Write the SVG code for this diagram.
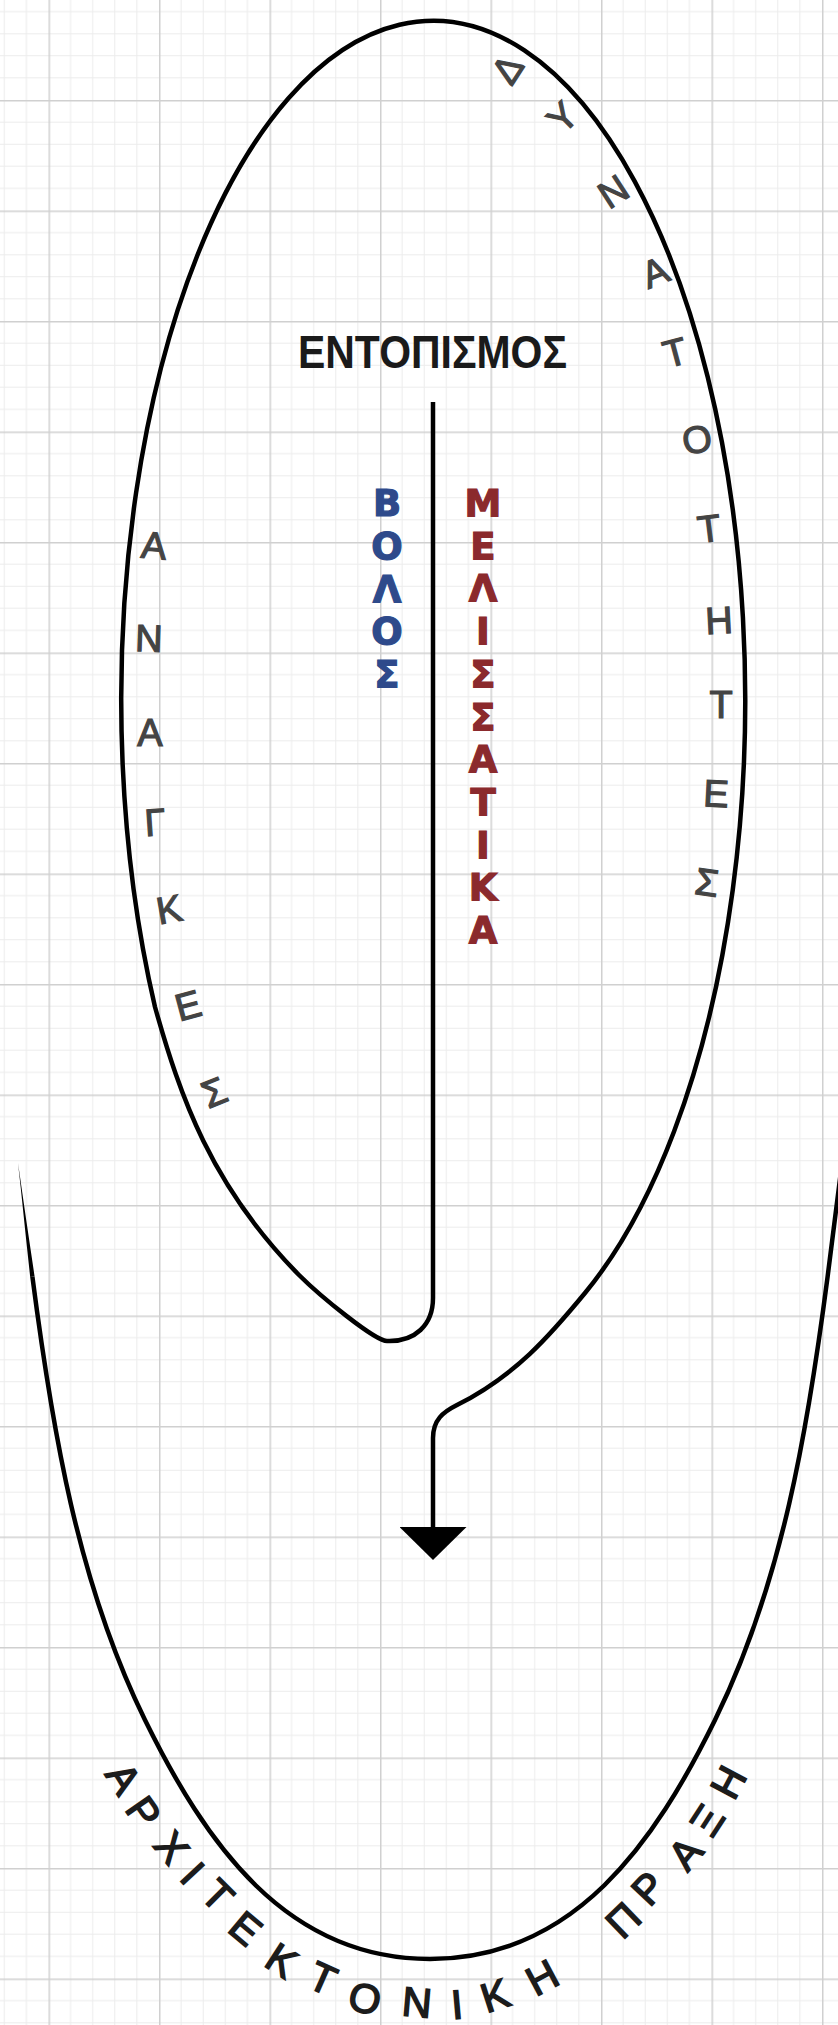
<svg xmlns="http://www.w3.org/2000/svg" width="838" height="2025" viewBox="0 0 838 2025">
<defs>
<pattern id="grid" patternUnits="userSpaceOnUse" x="48.5" y="-10.5" width="110.5" height="110.5">
<path d="M22.1,0V110.5M44.2,0V110.5M66.3,0V110.5M88.4,0V110.5M0,22.1H110.5M0,44.2H110.5M0,66.3H110.5M0,88.4H110.5" stroke="#ececec" stroke-width="1" fill="none"/>
<path d="M0.75,0V110.5M0,0.75H110.5" stroke="#d0d0d0" stroke-width="1.5" fill="none"/>
</pattern>
<marker id="arrow" markerUnits="userSpaceOnUse" viewBox="0 0 33 67" markerWidth="33" markerHeight="67" refX="0" refY="33.5" orient="auto">
<path d="M0,0 L33,33.5 L0,67 Z" fill="#000"/>
</marker>
<style>
.ln{fill:none;stroke:#000;stroke-width:4.5;stroke-linejoin:round}
.g{font-family:"Liberation Sans",Arial,sans-serif;font-size:38px;fill:#444;stroke:#444;stroke-width:1.2;text-anchor:middle}
.b{font-family:"Liberation Sans",Arial,sans-serif;font-size:41px;fill:#1c1c1c;stroke:#1c1c1c;stroke-width:1.6;text-anchor:middle}
.v{font-family:"DejaVu Sans",sans-serif;font-weight:bold;font-size:37px;fill:#2e4a8b;stroke:#2e4a8b;stroke-width:1.2;text-anchor:middle}
.m{font-family:"DejaVu Sans",sans-serif;font-weight:bold;font-size:37px;fill:#8b2a2d;stroke:#8b2a2d;stroke-width:1.2;text-anchor:middle}
.t{font-family:"Liberation Sans",Arial,sans-serif;font-weight:bold;font-size:47px;fill:#1a1a1a;text-anchor:middle}
</style>
</defs>
<rect width="838" height="2025" fill="#fff"/>
<rect width="838" height="2025" fill="url(#grid)"/>

<g id="connectors">
<path id="inner-loop" class="ln" marker-end="url(#arrow)" d="M433,402 L433,1298 C433,1325 415,1342 387,1341 C375,1341 320,1296 299,1275 C210.8,1185.5 180.2,1096.5 155,1007 A312,679 0 1 1 585,1293 C550,1335.5 515,1376 457,1405 C443,1412 433,1420 433,1438 L433,1527"/>
<path id="outer-u" class="ln" d="M32.4,1276.7 C52.2,1429.1 77.8,1583.2 145,1720 C205,1842 285,1959 430,1959 C575,1959 655,1842 715,1720 C782.2,1583.2 807.8,1429.1 827.6,1276.7 C832.6,1238.6 837.2,1200.6 842,1163"/>
<path id="outer-u-taper" d="M18,1163 C23.3,1200.5 28.9,1238.5 34.6,1276.4 L30.2,1277 C25.9,1238.7 22.3,1200.7 18,1163 Z" fill="#000"/>
</g>

<g id="node-entopismos">
<text class="t" x="432.5" y="368" textLength="269" lengthAdjust="spacingAndGlyphs">ΕΝΤΟΠΙΣΜΟΣ</text>
</g>

<g id="node-volos">
<text class="v" x="387" y="516">Β</text>
<text class="v" x="387" y="558.75">Ο</text>
<text class="v" x="387" y="601.5">Λ</text>
<text class="v" x="387" y="644.25">Ο</text>
<text class="v" x="387" y="687">Σ</text>
</g>

<g id="node-melissatika">
<text class="m" x="483" y="516">Μ</text>
<text class="m" x="483" y="558.7">Ε</text>
<text class="m" x="483" y="601.4">Λ</text>
<text class="m" x="483" y="644.1">Ι</text>
<text class="m" x="483" y="686.8">Σ</text>
<text class="m" x="483" y="729.5">Σ</text>
<text class="m" x="483" y="772.2">Α</text>
<text class="m" x="483" y="814.9">Τ</text>
<text class="m" x="483" y="857.6">Ι</text>
<text class="m" x="483" y="900.3">Κ</text>
<text class="m" x="483" y="943">Α</text>
</g>

<g id="node-anagkes">
<text class="g" transform="translate(154,545) rotate(5)" y="13.6">Α</text>
<text class="g" transform="translate(149,638) rotate(2)" y="13.6">Ν</text>
<text class="g" transform="translate(150,732)" y="13.6">Α</text>
<text class="g" transform="translate(155,822) rotate(-4)" y="13.6">Γ</text>
<text class="g" transform="translate(169,909) rotate(-10)" y="13.6">Κ</text>
<text class="g" transform="translate(188,1005) rotate(-15)" y="13.6">Ε</text>
<text class="g" transform="translate(214,1092) rotate(-22)" y="13.6">Σ</text>
</g>

<g id="node-dynatotites">
<text class="g" transform="translate(507,69) rotate(-57)" y="13.6">Δ</text>
<text class="g" transform="translate(562,117) rotate(-45)" y="13.6">Υ</text>
<text class="g" transform="translate(613,191) rotate(-33)" y="13.6">Ν</text>
<text class="g" transform="translate(655,272) rotate(-22)" y="13.6">Α</text>
<text class="g" transform="translate(675,352) rotate(-15)" y="13.6">Τ</text>
<text class="g" transform="translate(697,439) rotate(-10)" y="13.6">Ο</text>
<text class="g" transform="translate(709,528) rotate(-7)" y="13.6">Τ</text>
<text class="g" transform="translate(719,620) rotate(-3)" y="13.6">Η</text>
<text class="g" transform="translate(721,704)" y="13.6">Τ</text>
<text class="g" transform="translate(716,793) rotate(3)" y="13.6">Ε</text>
<text class="g" transform="translate(707,882) rotate(8)" y="13.6">Σ</text>
</g>

<g id="node-praxi">
<text class="b" transform="translate(124,1778) rotate(58)" y="14.7">Α</text>
<text class="b" transform="translate(144,1812) rotate(55)" y="14.7">Ρ</text>
<text class="b" transform="translate(172,1847) rotate(51)" y="14.7">Χ</text>
<text class="b" transform="translate(193,1873) rotate(47)" y="14.7">Ι</text>
<text class="b" transform="translate(218,1895) rotate(45)" y="14.7">Τ</text>
<text class="b" transform="translate(246,1928) rotate(40)" y="14.7">Ε</text>
<text class="b" transform="translate(282,1960) rotate(33)" y="14.7">Κ</text>
<text class="b" transform="translate(323,1978) rotate(24)" y="14.7">Τ</text>
<text class="b" transform="translate(365,1998) rotate(14)" y="14.7">Ο</text>
<text class="b" transform="translate(417,2002) rotate(5)" y="14.7">Ν</text>
<text class="b" transform="translate(457,2004) rotate(-5)" y="14.7">Ι</text>
<text class="b" transform="translate(495,1995) rotate(-18)" y="14.7">Κ</text>
<text class="b" transform="translate(542,1977) rotate(-28)" y="14.7">Η</text>
<text class="b" transform="translate(623,1920) rotate(-44)" y="14.7">Π</text>
<text class="b" transform="translate(648,1888) rotate(-47)" y="14.7">Ρ</text>
<text class="b" transform="translate(685,1853) rotate(-50)" y="14.7">Α</text>
<text class="b" transform="translate(707,1820) rotate(-57)" y="14.7">Ξ</text>
<text class="b" transform="translate(728,1782) rotate(-62)" y="14.7">Η</text>
</g>
</svg>
